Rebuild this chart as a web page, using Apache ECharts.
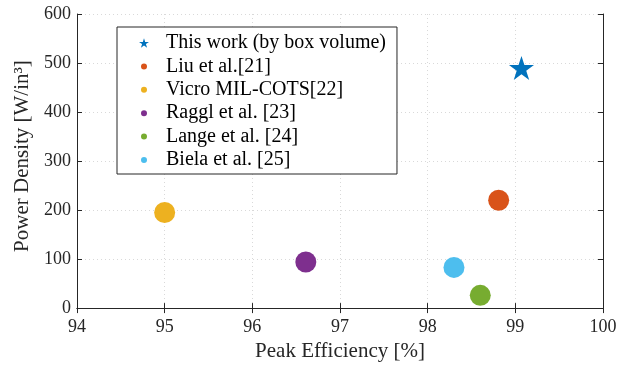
<!DOCTYPE html>
<html>
<head>
<meta charset="utf-8">
<script src="https://cdn.jsdelivr.net/npm/echarts@6/dist/echarts.min.js"></script>
<style>
  html, body { margin: 0; padding: 0; background: #fff; }
  #chart { width: 627px; height: 367px; }
</style>
</head>
<body>
<div id="chart"></div>
<script>
// Converter designs: peak efficiency vs. power density
const seriesNames = [
  'This work (by box volume)',
  'Liu et al.[21]',
  'Vicro MIL-COTS[22]',
  'Raggl et al. [23]',
  'Lange et al. [24]',
  'Biela et al. [25]'
];
const peakEfficiency = [99.07, 98.81, 95.0, 96.61, 98.6, 98.3];   // %
const powerDensity  = [490, 220, 195, 94, 26, 83];                // W/in^3
const xTicks = [94, 95, 96, 97, 98, 99, 100];
const yTicks = [0, 100, 200, 300, 400, 500, 600];

const colors = ['#0072BD', '#D95319', '#EDB120', '#7E2F8E', '#77AC30', '#4DBEEE'];
const STAR = 'path://M0,-1L0.2245,-0.309L0.951,-0.309L0.363,0.118L0.588,0.809L0,0.382L-0.588,0.809L-0.363,0.118L-0.951,-0.309L-0.2245,-0.309Z';
const FONT = '"Liberation Serif", "DejaVu Serif", serif';
const INK = '#262626';

const series = seriesNames.map((name, i) => ({
  name: name,
  type: 'scatter',
  xAxisIndex: 0,
  yAxisIndex: 0,
  symbol: i === 0 ? STAR : 'circle',
  symbolSize: i === 0 ? [25, 24] : 21,
  itemStyle: { color: colors[i], opacity: 1 },
  emphasis: { disabled: true },
  data: [[peakEfficiency[i], powerDensity[i]]],
  z: 5
}));

const baseAxis = {
  axisLine: { show: true, lineStyle: { color: INK, width: 1 } },
  axisTick: { show: true, inside: true, length: 5, lineStyle: { color: INK } },
  splitLine: { show: false },
  axisLabel: { show: false }
};

const gridLine = { show: true, lineStyle: { color: '#d9d9d9', type: [1, 3], width: 1 } };

const option = {
  animation: false,
  backgroundColor: '#fff',
  grid: { left: 77, right: 24, top: 14, bottom: 58, containLabel: false },
  xAxis: [
    Object.assign({}, baseAxis, {
      type: 'value', min: xTicks[0], max: xTicks[xTicks.length - 1], interval: 1,
      position: 'bottom',
      axisLabel: { show: true, color: INK, fontFamily: FONT, fontSize: 18, margin: 10 },
      splitLine: gridLine,
      name: 'Peak Efficiency [%]', nameLocation: 'middle', nameGap: 32,
      nameTextStyle: { color: INK, fontFamily: FONT, fontSize: 21 }
    }),
    Object.assign({}, baseAxis, {
      type: 'value', min: xTicks[0], max: xTicks[xTicks.length - 1], interval: 1,
      position: 'top'
    })
  ],
  yAxis: [
    Object.assign({}, baseAxis, {
      type: 'value', min: yTicks[0], max: yTicks[yTicks.length - 1], interval: 100,
      position: 'left',
      axisLabel: { show: true, color: INK, fontFamily: FONT, fontSize: 18, margin: 6 },
      splitLine: gridLine,
      name: 'Power Density [W/in³]', nameLocation: 'middle', nameGap: 44,
      nameTextStyle: { color: INK, fontFamily: FONT, fontSize: 21, padding: [0, 0, 0, 10] }
    }),
    Object.assign({}, baseAxis, {
      type: 'value', min: yTicks[0], max: yTicks[yTicks.length - 1], interval: 100,
      position: 'right'
    })
  ],
  legend: {
    orient: 'vertical',
    left: 117,
    top: 27,
    backgroundColor: '#fff',
    borderColor: INK,
    borderWidth: 1,
    borderRadius: 0,
    padding: [6, 11, 4, 20],
    itemGap: 3.4,
    itemWidth: 10,
    itemHeight: 10,
    selectedMode: false,
    textStyle: { color: '#000', fontFamily: FONT, fontSize: 20, lineHeight: 20, padding: [0, 0, 0, 12] },
    data: seriesNames.map((name, i) => ({
      name: name,
      icon: i === 0 ? STAR : 'circle',
      // a white rim shrinks the dot icons to a small marker
      itemStyle: i === 0
        ? { color: colors[i], borderWidth: 0 }
        : { color: colors[i], borderColor: '#fff', borderWidth: 4 }
    })),
    z: 10
  },
  series: series
};

const chart = echarts.init(document.getElementById('chart'), null, { renderer: 'canvas' });
chart.setOption(option);
</script>
</body>
</html>
